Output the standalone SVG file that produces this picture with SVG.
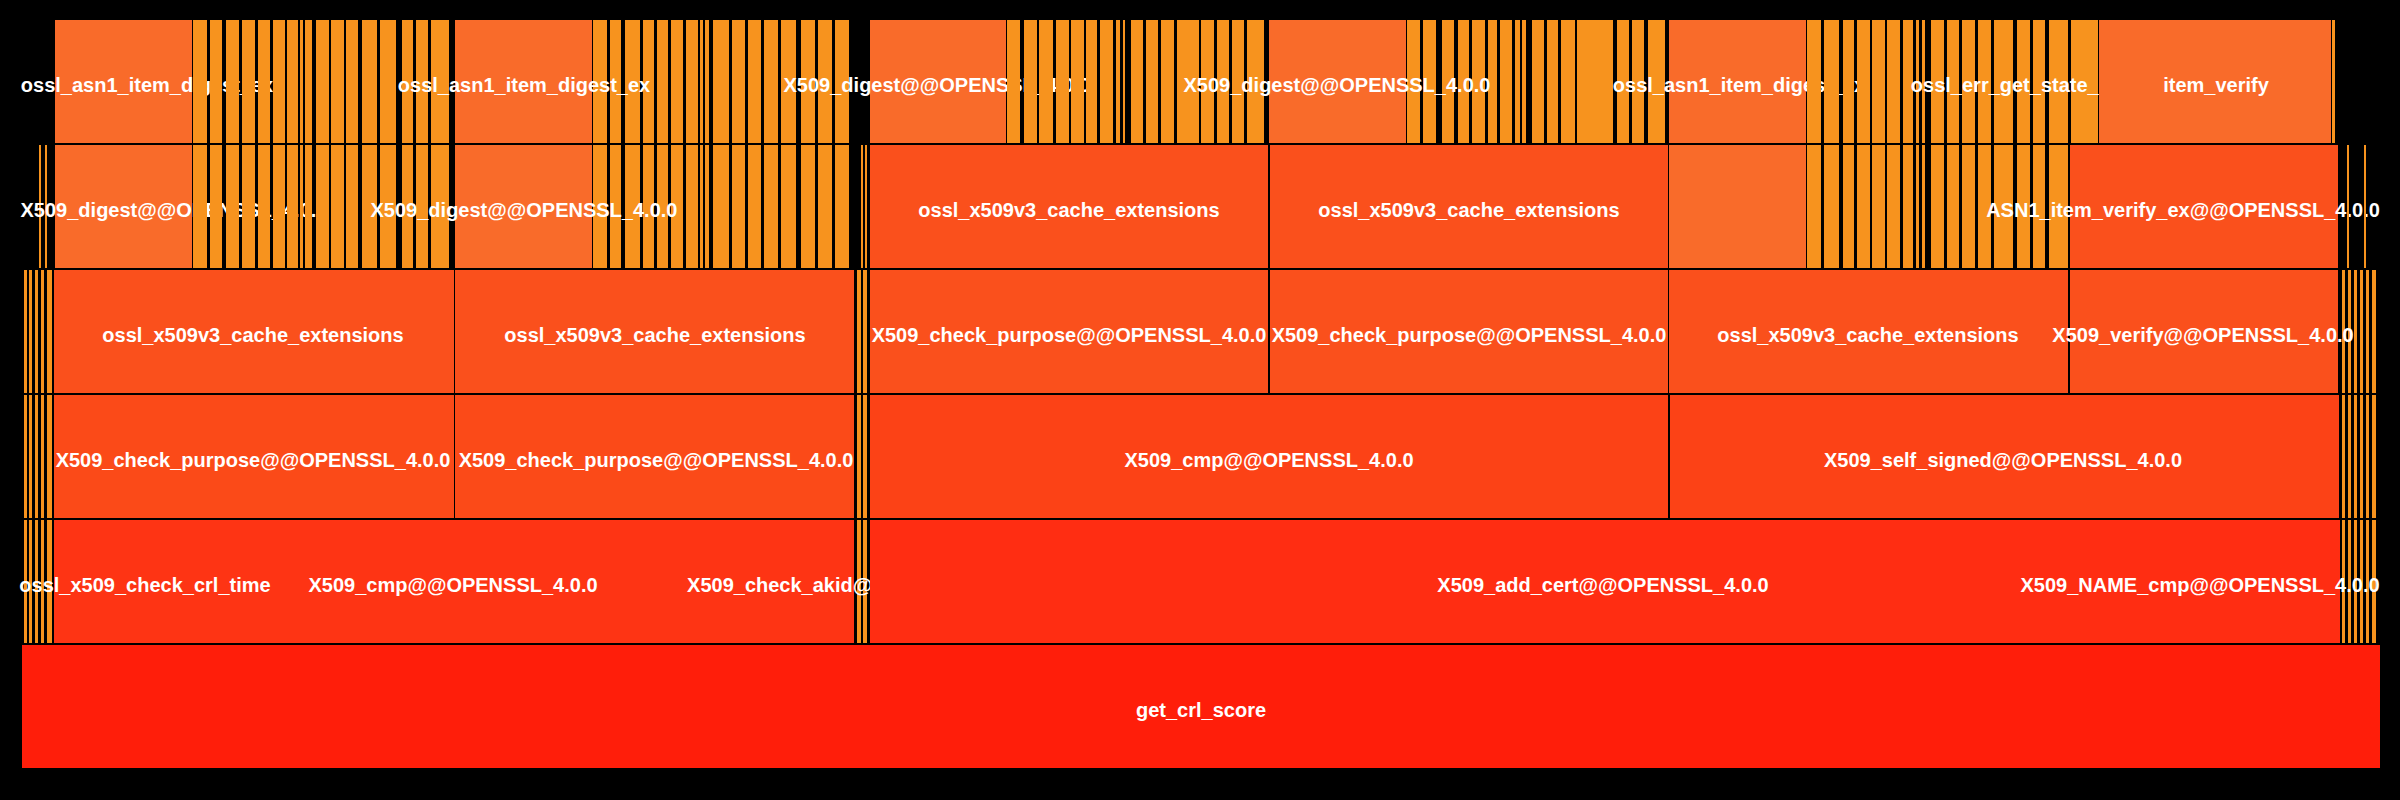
<svg xmlns="http://www.w3.org/2000/svg" xmlns:xlink="http://www.w3.org/1999/xlink" width="2400" height="800" viewBox="0 0 2400 800">
<style>
.t{font-family:"Liberation Sans",Arial,sans-serif;font-weight:bold;font-size:20px;fill:#fff;text-anchor:middle}
.y{fill:#f7931e}.o{fill:#f96b2a}.c{fill:#fa501c}.p{fill:#fb4a18}.q{fill:#fc4216}.r{fill:#fe3414}.s{fill:#ff2d12}.b{fill:#ff1e0a}
</style>
<defs>
<g id="sa" class="y">
<rect x="193" y="0" width="14" height="123"/><rect x="210" y="0" width="12" height="123"/><rect x="226" y="0" width="13" height="123"/><rect x="242" y="0" width="13" height="123"/><rect x="258" y="0" width="12" height="123"/><rect x="273" y="0" width="12" height="123"/><rect x="287" y="0" width="11" height="123"/><rect x="300" y="0" width="3" height="123"/><rect x="305" y="0" width="7" height="123"/><rect x="316" y="0" width="13" height="123"/><rect x="331" y="0" width="13" height="123"/><rect x="346" y="0" width="12" height="123"/><rect x="362" y="0" width="15" height="123"/><rect x="380" y="0" width="16" height="123"/><rect x="402" y="0" width="11" height="123"/><rect x="416" y="0" width="12" height="123"/><rect x="431" y="0" width="18" height="123"/>
<rect x="593" y="0" width="14" height="123"/><rect x="610" y="0" width="11" height="123"/><rect x="625" y="0" width="15" height="123"/><rect x="643" y="0" width="11" height="123"/><rect x="657" y="0" width="11" height="123"/><rect x="671" y="0" width="12" height="123"/><rect x="686" y="0" width="12" height="123"/><rect x="700" y="0" width="3" height="123"/><rect x="705" y="0" width="4" height="123"/><rect x="713" y="0" width="16" height="123"/><rect x="732" y="0" width="13" height="123"/><rect x="748" y="0" width="13" height="123"/><rect x="764" y="0" width="14" height="123"/><rect x="781" y="0" width="15" height="123"/><rect x="801" y="0" width="14" height="123"/><rect x="818" y="0" width="14" height="123"/><rect x="835" y="0" width="14" height="123"/>
</g>
<g id="sb" class="y">
<rect x="1807" y="0" width="14" height="123"/><rect x="1824" y="0" width="15" height="123"/><rect x="1843" y="0" width="11" height="123"/><rect x="1857" y="0" width="13" height="123"/><rect x="1872" y="0" width="13" height="123"/><rect x="1887" y="0" width="13" height="123"/><rect x="1903" y="0" width="10" height="123"/><rect x="1916" y="0" width="3" height="123"/><rect x="1922" y="0" width="3" height="123"/><rect x="1931" y="0" width="13" height="123"/><rect x="1947" y="0" width="12" height="123"/><rect x="1962" y="0" width="13" height="123"/><rect x="1978" y="0" width="13" height="123"/><rect x="1994" y="0" width="19" height="123"/><rect x="2017" y="0" width="13" height="123"/><rect x="2033" y="0" width="12" height="123"/><rect x="2049" y="0" width="19" height="123"/>
</g>
<g id="sc" class="y">
<rect x="24" y="0" width="3" height="123"/><rect x="29" y="0" width="3" height="123"/><rect x="35" y="0" width="3" height="123"/><rect x="41" y="0" width="3" height="123"/><rect x="47" y="0" width="5" height="123"/>
<rect x="857" y="0" width="4" height="123"/><rect x="863" y="0" width="4" height="123"/>
<rect x="2342" y="0" width="3" height="123"/><rect x="2348" y="0" width="3" height="123"/><rect x="2354" y="0" width="3" height="123"/><rect x="2360" y="0" width="3" height="123"/><rect x="2366" y="0" width="3" height="123"/><rect x="2372" y="0" width="4" height="123"/>
</g>
</defs>
<rect x="0" y="0" width="2400" height="800" fill="#000"/>
<g id="row1">
<g id="n1a"><rect class="o" x="55" y="20" width="137" height="123"/><text class="t" x="147" y="92">ossl_asn1_item_digest_ex</text></g>
<use xlink:href="#sa" href="#sa" y="20"/>
<g id="n1b"><rect class="o" x="455" y="20" width="137" height="123"/><text class="t" x="524" y="92">ossl_asn1_item_digest_ex</text></g>
<g id="n1c"><rect class="o" x="870" y="20" width="136" height="123"/><text class="t" x="937" y="92">X509_digest@@OPENSSL_4.0.0</text></g>
<g class="y">
<rect x="1007" y="20" width="13" height="123"/><rect x="1024" y="20" width="13" height="123"/><rect x="1039" y="20" width="14" height="123"/><rect x="1056" y="20" width="13" height="123"/><rect x="1071" y="20" width="13" height="123"/><rect x="1086" y="20" width="11" height="123"/><rect x="1100" y="20" width="13" height="123"/><rect x="1116" y="20" width="4" height="123"/><rect x="1123" y="20" width="2" height="123"/><rect x="1131" y="20" width="12" height="123"/><rect x="1146" y="20" width="12" height="123"/><rect x="1161" y="20" width="13" height="123"/><rect x="1177" y="20" width="22" height="123"/><rect x="1201" y="20" width="13" height="123"/><rect x="1217" y="20" width="12" height="123"/><rect x="1232" y="20" width="12" height="123"/><rect x="1247" y="20" width="17" height="123"/>
<rect x="1407" y="20" width="13" height="123"/><rect x="1423" y="20" width="13" height="123"/><rect x="1442" y="20" width="12" height="123"/><rect x="1458" y="20" width="11" height="123"/><rect x="1472" y="20" width="13" height="123"/><rect x="1488" y="20" width="9" height="123"/><rect x="1500" y="20" width="12" height="123"/><rect x="1515" y="20" width="5" height="123"/><rect x="1522" y="20" width="4" height="123"/><rect x="1532" y="20" width="12" height="123"/><rect x="1547" y="20" width="11" height="123"/><rect x="1561" y="20" width="14" height="123"/><rect x="1577" y="20" width="36" height="123"/><rect x="1617" y="20" width="12" height="123"/><rect x="1632" y="20" width="12" height="123"/><rect x="1648" y="20" width="17" height="123"/>
</g>
<g id="n1d"><rect class="o" x="1269" y="20" width="137" height="123"/><text class="t" x="1337" y="92">X509_digest@@OPENSSL_4.0.0</text></g>
<g id="n1e"><rect class="o" x="1669" y="20" width="137" height="123"/><text class="t" x="1739" y="92">ossl_asn1_item_digest_ex</text></g>
<use xlink:href="#sb" href="#sb" y="20"/>
<rect class="y" x="2071" y="20" width="27" height="123"/>
<g id="n1f"><text class="t" x="2017" y="92">ossl_err_get_state_int</text></g>
<g id="n1g"><rect class="o" x="2099" y="20" width="232" height="123"/><text class="t" x="2216" y="92">item_verify</text></g>
<rect class="y" x="2332" y="20" width="3" height="123"/>
</g>
<g id="row2">
<rect class="y" x="39" y="145" width="2" height="123"/><rect class="y" x="45" y="145" width="2" height="123"/>
<g id="n2a"><rect class="o" x="55" y="145" width="137" height="123"/><text class="t" x="174" y="217">X509_digest@@OPENSSL_4.0.0</text></g>
<use xlink:href="#sa" href="#sa" y="145"/>
<g id="n2b"><rect class="o" x="455" y="145" width="137" height="123"/><text class="t" x="524" y="217">X509_digest@@OPENSSL_4.0.0</text></g>
<rect class="y" x="861" y="145" width="2" height="123"/><rect class="y" x="865" y="145" width="2" height="123"/>
<g id="n2c"><rect class="c" x="870" y="145" width="398" height="123"/><text class="t" x="1069" y="217">ossl_x509v3_cache_extensions</text></g>
<g id="n2d"><rect class="c" x="1270" y="145" width="398" height="123"/><text class="t" x="1469" y="217">ossl_x509v3_cache_extensions</text></g>
<rect class="o" x="1669" y="145" width="137" height="123"/>
<use xlink:href="#sb" href="#sb" y="145"/>
<g id="n2e"><rect class="c" x="2070" y="145" width="268" height="123"/><text class="t" x="2183" y="217">ASN1_item_verify_ex@@OPENSSL_4.0.0</text></g>
<rect class="y" x="2347" y="145" width="2" height="123"/><rect class="y" x="2364" y="145" width="2" height="123"/>
</g>
<g id="row3">
<use xlink:href="#sc" href="#sc" y="270"/>
<g id="n3a"><rect class="c" x="54" y="270" width="400" height="123"/><text class="t" x="253" y="342">ossl_x509v3_cache_extensions</text></g>
<g id="n3b"><rect class="c" x="455" y="270" width="399" height="123"/><text class="t" x="655" y="342">ossl_x509v3_cache_extensions</text></g>
<g id="n3c"><rect class="c" x="870" y="270" width="398" height="123"/><text class="t" x="1069" y="342">X509_check_purpose@@OPENSSL_4.0.0</text></g>
<g id="n3d"><rect class="c" x="1270" y="270" width="398" height="123"/><text class="t" x="1469" y="342">X509_check_purpose@@OPENSSL_4.0.0</text></g>
<g id="n3e"><rect class="c" x="1669" y="270" width="399" height="123"/><text class="t" x="1868" y="342">ossl_x509v3_cache_extensions</text></g>
<g id="n3f"><rect class="c" x="2070" y="270" width="268" height="123"/><text class="t" x="2203" y="342">X509_verify@@OPENSSL_4.0.0</text></g>
</g>
<g id="row4">
<use xlink:href="#sc" href="#sc" y="395"/>
<g id="n4a"><rect class="p" x="54" y="395" width="400" height="123"/><text class="t" x="253" y="467">X509_check_purpose@@OPENSSL_4.0.0</text></g>
<g id="n4b"><rect class="p" x="455" y="395" width="399" height="123"/><text class="t" x="656" y="467">X509_check_purpose@@OPENSSL_4.0.0</text></g>
<g id="n4c"><rect class="q" x="870" y="395" width="798" height="123"/><text class="t" x="1269" y="467">X509_cmp@@OPENSSL_4.0.0</text></g>
<g id="n4d"><rect class="q" x="1670" y="395" width="669" height="123"/><text class="t" x="2003" y="467">X509_self_signed@@OPENSSL_4.0.0</text></g>
</g>
<g id="row5">
<use xlink:href="#sc" href="#sc" y="520"/>
<g id="n5a"><rect class="r" x="54" y="520" width="800" height="123"/><text class="t" x="145" y="592">ossl_x509_check_crl_time</text><text class="t" x="453" y="592">X509_cmp@@OPENSSL_4.0.0</text></g>
<g id="n5b"><text class="t" x="865" y="592">X509_check_akid@@OPENSSL_4.0.0</text></g>
<g id="n5c"><rect class="s" x="870" y="520" width="1470" height="123"/><text class="t" x="1603" y="592">X509_add_cert@@OPENSSL_4.0.0</text></g>
<g id="n5d"><text class="t" x="2200" y="592">X509_NAME_cmp@@OPENSSL_4.0.0</text></g>
</g>
<g id="n6"><rect class="b" x="22" y="645" width="2358" height="123"/><text class="t" x="1201" y="717">get_crl_score</text></g>
<g id="connectors"/>
</svg>
